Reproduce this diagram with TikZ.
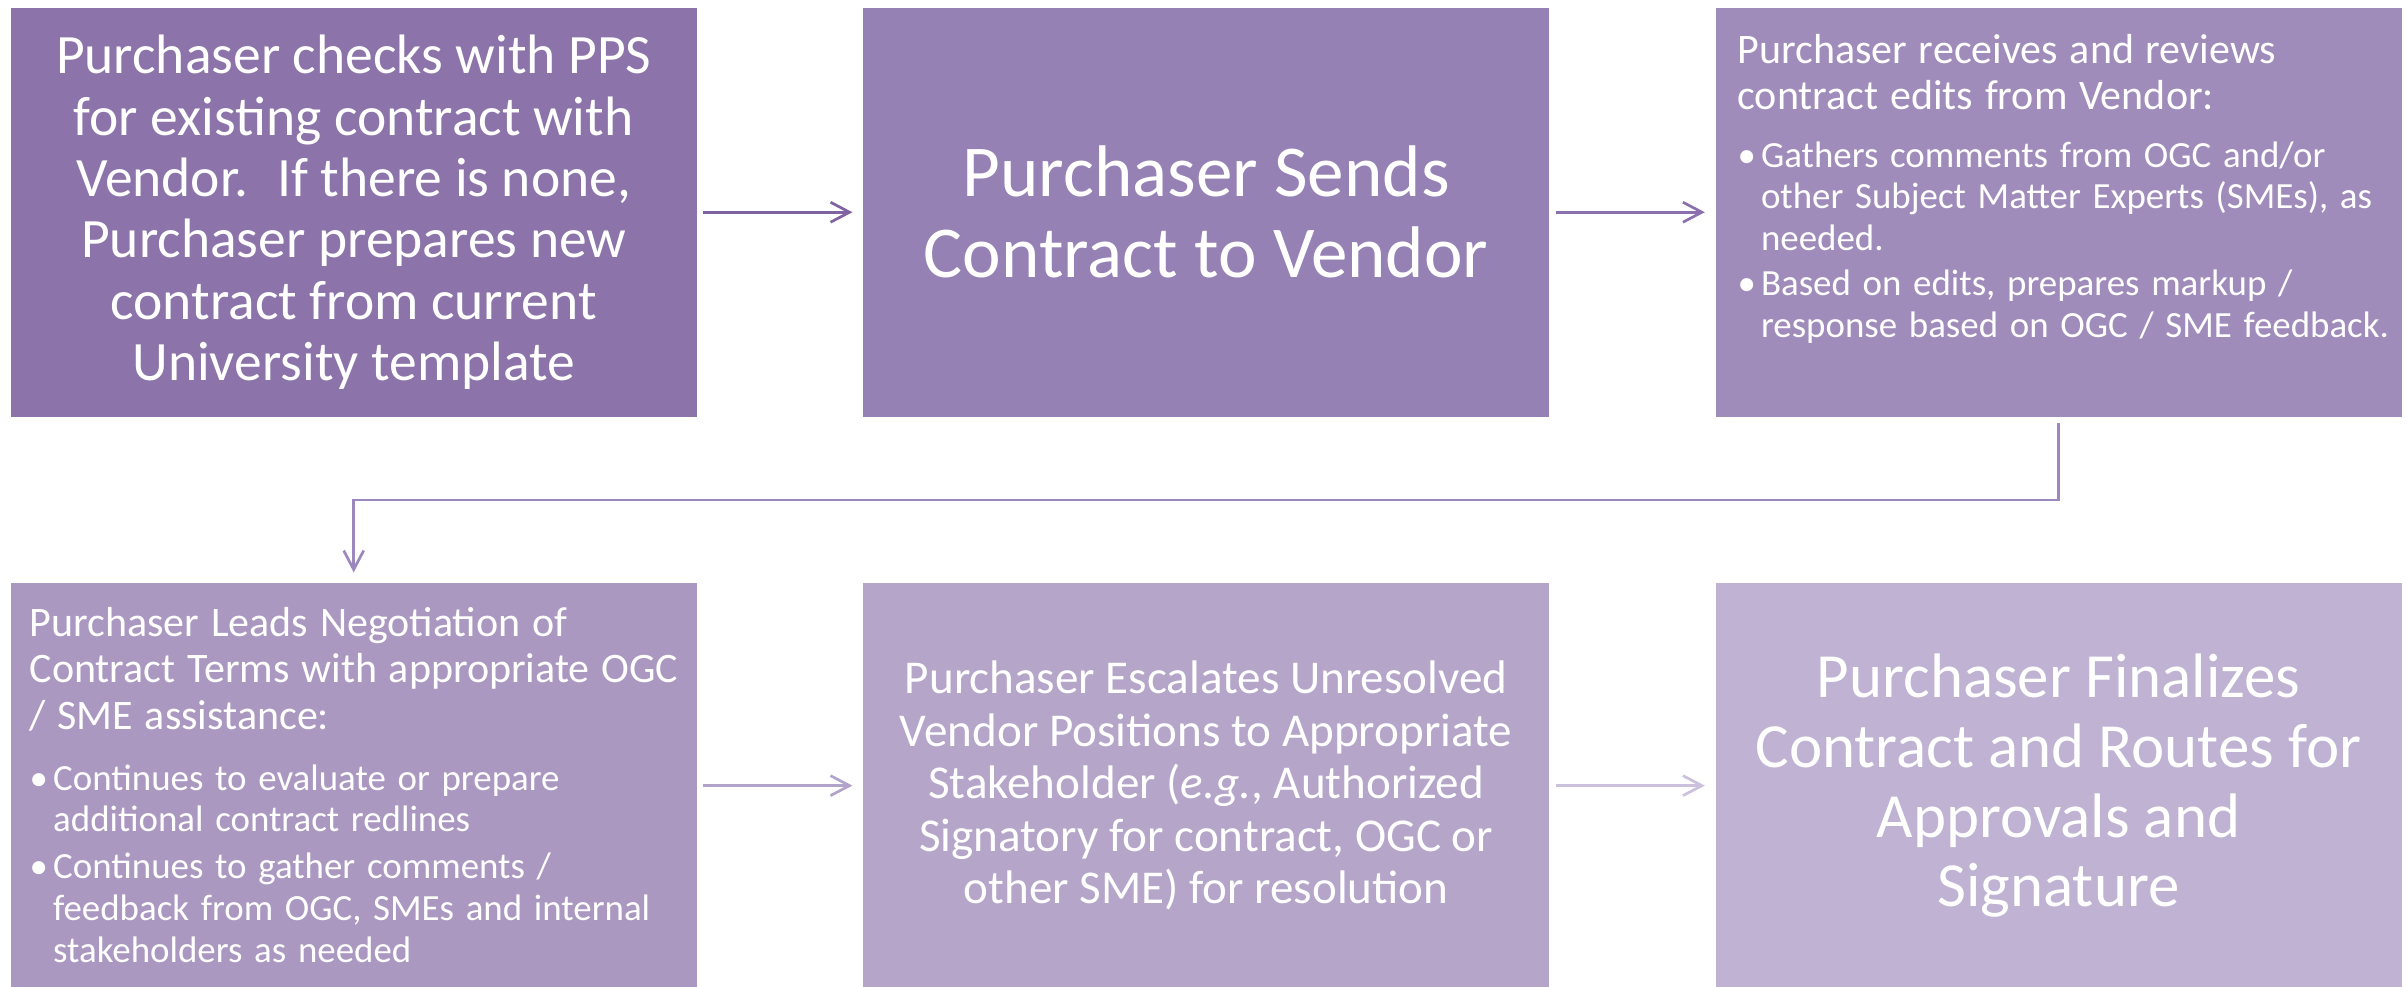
\documentclass[tikz,border=0pt]{standalone}
\usepackage{fontspec}
\setmainfont{Carlito}
\usetikzlibrary{positioning}
\usetikzlibrary{arrows.meta}

\definecolor{boxA}{HTML}{8C74AA}
\definecolor{boxB}{HTML}{9681B5}
\definecolor{boxC}{HTML}{A08CBA}
\definecolor{boxD}{HTML}{AA98C1}
\definecolor{boxE}{HTML}{B4A5C9}
\definecolor{boxF}{HTML}{BFB2D2}
\definecolor{arrA}{HTML}{7F62A0}
\definecolor{arrB}{HTML}{8A70AC}
\definecolor{arrC}{HTML}{9C88BC}
\definecolor{arrD}{HTML}{B2A3CB}
\definecolor{arrE}{HTML}{CBC1DD}

\newcommand{\headfont}{\fontsize{11.95}{13.2}\selectfont}
\newcommand{\itemfont}{\fontsize{10.5}{11.8}\selectfont}
\newcommand{\bulitem}{\makebox[0.235cm][l]{\textbullet}}
\newcommand{\bulcont}{\hspace*{0.235cm}}

\begin{document}
\begin{tikzpicture}[every node/.style={text=white, inner sep=0pt},
    stepbox/.style={rectangle, minimum width=6.86cm, minimum height=4.09cm, align=center},
    lowbox/.style={stepbox, minimum height=4.05cm},
    listtext/.style={text width=6.75cm, align=left, anchor=base west},
    link/.style={line width=0.027cm, -{Straight Barb[length=0.19cm,width=0.2cm]},
                 shorten <=0.06cm, shorten >=0.1cm}]
  \useasboundingbox (0,0) rectangle (24.07,-9.86);

  % top row
  \node[stepbox, fill=boxA, anchor=north west, font=\fontsize{15.8}{17.45}\selectfont] (check) at (0.10,-0.07)
    {Purchaser checks with PPS\\for existing contract with\\Vendor.~ If there is none,\\Purchaser prepares new\\contract from current\\University template};
  \node[stepbox, fill=boxB, right=1.65cm of check, font=\fontsize{20.8}{23.05}\selectfont] (send)
    {Purchaser Sends\\Contract to Vendor};
  \node[stepbox, fill=boxC, right=1.65cm of send] (review) {};
  \node[listtext] (reviewtxt) at ([xshift=0.22cm, yshift=-0.56cm]review.north west)
    {\headfont Purchaser receives and reviews\\contract edits from Vendor:\\[0.165cm]
     \itemfont\bulitem Gathers comments from OGC and/or\\\bulcont other Subject Matter Experts (SMEs), as\\\bulcont needed.\\[0.035cm]
     \bulitem Based on edits, prepares markup /\\\bulcont response based on OGC / SME feedback.};

  % bottom row
  \node[lowbox, fill=boxD, below=1.65cm of check] (lead) {};
  \node[listtext] (leadtxt) at ([xshift=0.19cm, yshift=-0.54cm]lead.north west)
    {\headfont Purchaser Leads Negotiation of\\Contract Terms with appropriate OGC\\/ SME assistance:\\[0.195cm]
     \itemfont\bulitem Continues to evaluate or prepare\\\bulcont additional contract redlines\\[0.055cm]
     \bulitem Continues to gather comments /\\\bulcont feedback from OGC, SMEs and internal\\\bulcont stakeholders as needed};
  \node[lowbox, fill=boxE, right=1.65cm of lead, font=\fontsize{13.4}{14.95}\selectfont] (escalate)
    {Purchaser Escalates Unresolved\\Vendor Positions to Appropriate\\Stakeholder (\textit{e.g.}, Authorized\\Signatory for contract, OGC or\\other SME) for resolution};
  \node[lowbox, fill=boxF, right=1.65cm of escalate, font=\fontsize{17.9}{19.9}\selectfont] (final)
    {Purchaser Finalizes\\Contract and Routes for\\Approvals and\\Signature};

  \draw[link, draw=arrA] (check) -- (send);
  \draw[link, draw=arrB] (send) -- (review);
  \draw[link, draw=arrC] (review.south) -- ++(0,-0.825) -| (lead.north);
  \draw[link, draw=arrD] (lead) -- (escalate);
  \draw[link, draw=arrE] (escalate) -- (final);
\end{tikzpicture}
\end{document}
